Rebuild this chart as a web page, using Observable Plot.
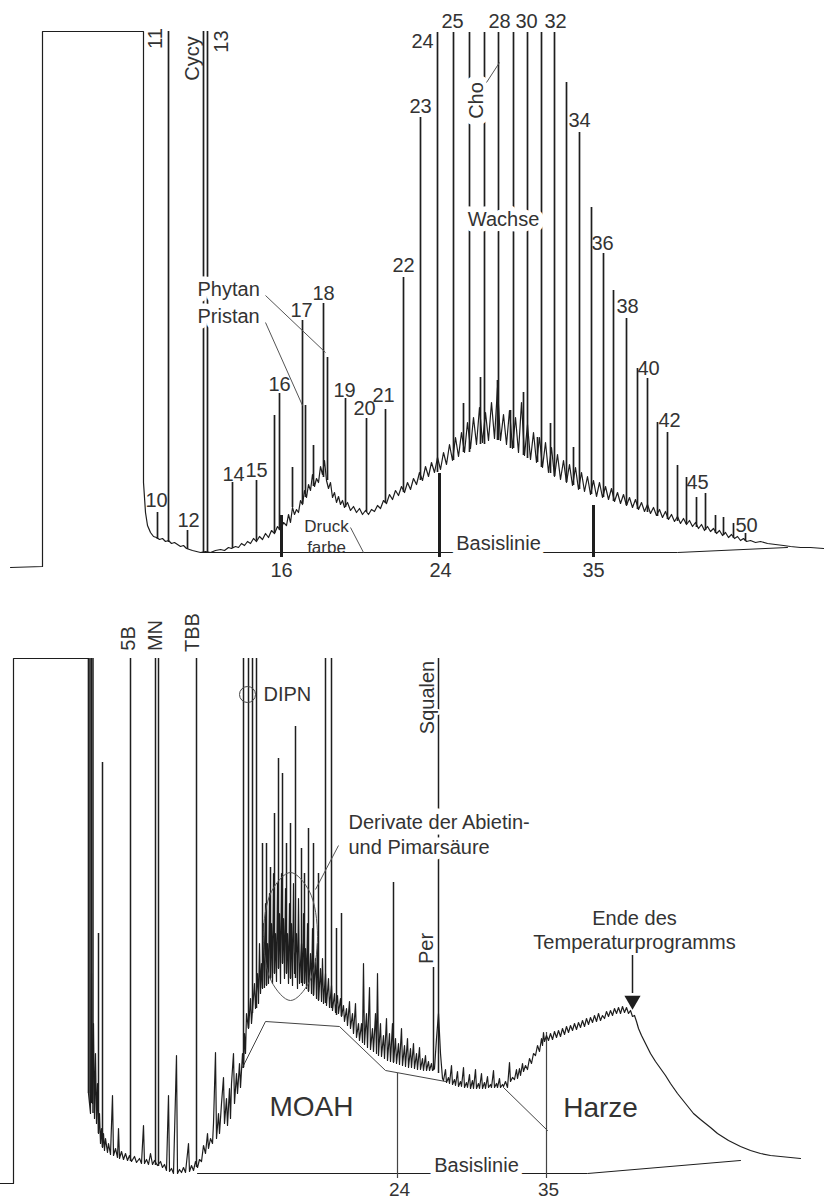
<!DOCTYPE html>
<html><head><meta charset="utf-8">
<script src="https://cdn.jsdelivr.net/npm/d3@7"></script>
<script src="https://cdn.jsdelivr.net/npm/@observablehq/plot@0.6"></script>
<style>body{margin:0;background:#fff}#chart{width:824px;line-height:0}</style>
</head><body><div id="chart"></div>
<script>
// ---------- TOP chromatogram (retention scan units, signal units) ----------
const topTrace = [[10,-15],[42,-14],[42,521],[143,521],[143,70],[145,40],[147,27],[150,20],[153,16],[156,15],[159,13],[162,14],[165,11],[168,12],[171,9],[174,10],[177,8],[180,6],[183,7],[186,4],[189,3],[192,2],[196,1],[200,0],[205,1],[210,0],[215,2],[220,3],[224,2],[228,5],[231,4],[235,6],[238,5],[241,9],[244,7],[247,11],[250,9],[253,14],[256,11],[259,16],[262,13],[265,19],[268,15],[271,22],[274,19],[277,26],[280,22],[283,30],[286,27],[288,38],[290,30],[292,45],[294,38],[296,43],[298,40],[300,52],[302,48],[304,62],[306,55],[308,68],[310,62],[312,78],[314,66],[316,74],[318,70],[320,86],[322,78],[324,92],[326,72],[328,64],[330,70],[332,55],[334,60],[336,50],[338,56],[340,48],[342,52],[344,45],[347,50],[350,42],[353,46],[356,40],[359,44],[362,38],[365,42],[368,38],[371,43],[374,41],[377,47],[380,44],[383,52],[386,49],[389,58],[392,53],[395,62],[398,57],[401,66],[404,60],[407,70],[410,63],[413,74],[416,68],[419,80],[422,72],[425,86],[428,76],[431,90],[434,80],[437,95],[440,83],[443,100],[446,88],[449,108],[452,92],[455,115],[458,96],[461,120],[464,100],[467,130],[470,104],[473,135],[476,108],[479,145],[482,110],[485,140],[488,112],[491,150],[494,114],[497,165],[500,112],[503,138],[506,108],[509,142],[512,104],[515,135],[518,100],[521,150],[524,97],[527,128],[530,93],[533,120],[536,90],[539,115],[542,85],[545,110],[548,80],[551,105],[554,76],[557,98],[560,73],[563,92],[566,70],[569,88],[572,67],[575,85],[578,63],[581,80],[584,61],[587,76],[590,58],[593,72],[596,56],[599,70],[602,55],[605,66],[608,53],[611,64],[614,51],[617,60],[620,49],[623,58],[626,47],[629,55],[632,45],[635,53],[638,43],[641,50],[644,41],[647,48],[650,39],[653,45],[656,37],[659,43],[662,35],[665,41],[668,33],[671,38],[674,31],[677,36],[680,29],[683,34],[686,28],[689,32],[692,26],[695,30],[698,24],[701,28],[704,22],[707,26],[710,21],[713,24],[716,19],[719,22],[722,17],[725,20],[728,15],[731,18],[734,14],[737,16],[740,12],[743,14],[746,11],[750,12],[755,10],[760,11],[767,9],[775,8],[783,7],[790,6],[800,5],[810,5],[823,4]];

// peaks: [position, foot, apex]
const topPeaks = [[157,13,40],[168,10,521],[187,3,22],[203,0,521],[207,0,521],
[232,4,70],[256,12,72],[274,19,137],[279,22,159],[292,45,85],[302,48,232],[305,55,147],[313,66,107],[323,75,249],[327,72,195],
[345,45,154],[366,40,134],[385,49,143],[403,60,275],[420,72,435],
[437,80,520],[453,92,520],[469,100,520],[484,108,520],[498,112,520],[513,104,520],[527,94,520],[541,85,520],[554,76,520],
[566,70,470],[579,63,420],[591,58,345],[603,55,299],[613,51,262],[626,47,234],[637,43,184],[647,40,174],[657,36,130],[667,33,120],[677,31,87],[686,28,75],[696,25,55],[705,22,59],[715,19,37],[723,17,35],[733,14,29],[745,11,19],
[463,100,149],[480,108,175],[497,112,172],[510,104,142],[523,97,160],[537,90,115],[550,79,129],[573,67,105]];

const topNumLabels = [
 {x:156,y:52,t:"10"},{x:188,y:32,t:"12"},{x:233,y:78,t:"14"},{x:256,y:82,t:"15"},{x:279,y:168,t:"16"},
 {x:301,y:242,t:"17"},{x:323,y:259,t:"18"},{x:344,y:162,t:"19"},{x:364,y:144,t:"20"},{x:383,y:157,t:"21"},
 {x:403,y:287,t:"22"},{x:420,y:446,t:"23"},{x:422,y:511,t:"24"},{x:452,y:531,t:"25"},{x:499,y:531,t:"28"},
 {x:526,y:531,t:"30"},{x:555,y:531,t:"32"},{x:579,y:432,t:"34"},{x:602,y:309,t:"36"},{x:627,y:246,t:"38"},
 {x:648,y:184,t:"40"},{x:669,y:132,t:"42"},{x:697,y:70,t:"45"},{x:746,y:27,t:"50"}];
const topRotLabels = [{x:155,y:514,t:"11"},{x:192,y:494,t:"Cycy"},{x:221,y:511,t:"13"}];
const topRotCut = [{x:476,y:452,t:"Cho"}];
const topNamesLeft = [{x:197,y:263,t:"Phytan"},{x:197,y:236,t:"Pristan"}];
const topNamesMid = [{x:503,y:333,t:"Wachse"},{x:498,y:9,t:"Basislinie"}];
const topSmall = [{x:326,y:26,t:"Druck"},{x:326,y:5,t:"farbe"}];
const topTickLabels = [{x:281,y:-18,t:"16"},{x:440,y:-18,t:"24"},{x:593,y:-18,t:"35"}];
const topLeaders = [{x1:265,y1:257,x2:325,y2:200},{x1:265,y1:230,x2:302,y2:147},{x1:486,y1:470,x2:499,y2:490},{x1:350,y1:25,x2:363,y2:0}];
const topTicks = [[281,37,-5],[439,79,-5],[593,47,-5]];
const topBase = [[200,0],[677,0],[787,5]];

// ---------- BOTTOM chromatogram ----------
const botTrace = [[0,-10],[13,-10],[13,515],[88,515],[88,80],[90,60],[91,200],[92,70],[93,150],[94,55],[95,120],[96,50],[97,90],[98,40],[99,60],[100,30],[101,45],[102,26],[103,40],[104,23],[105,35],[107,21],[108,30],[110,19],[112,78],[113,18],[115,25],[117,16],[118,45],[119,15],[121,22],[123,14],[125,20],[127,13],[129,18],[131,12],[134,17],[136,11],[139,15],[141,10],[143,48],[144,10],[146,14],[148,9],[150,20],[152,9],[154,13],[157,8],[160,12],[162,6],[164,9],[166,3],[168,78],[169,2],[171,5],[173,0],[176,118],[177,0],[179,4],[181,1],[183,6],[185,1],[188,30],[189,2],[191,8],[193,3],[195,12],[197,6],[199,14],[201,12],[203,28],[205,20],[207,40],[208,25],[210,35],[212,30],[213,50],[215,121],[216,35],[218,60],[219,40],[221,70],[223,96],[224,50],[226,75],[227,48],[229,85],[230,55],[231,90],[233,120],[234,70],[236,100],[237,80],[239,110],[240,86],[242,120],[243,106],
[244,140],[245,120],[246,160],[248,145],[250,175],[251,150],[254,190],[255,165],[257,200],[258,170],[259,230],[260,180],[261,210],[262,185],[263,250],[264,186],[265,270],[266,188],[267,230],[268,190],[269,280],[270,195],[271,250],[272,190],[273,300],[274,200],[275,240],[276,192],[277,290],[278,205],[279,260],[280,190],[281,300],[282,210],[283,255],[284,195],[285,285],[286,200],[287,240],[288,190],[289,270],[290,195],[291,250],[292,188],[293,290],[294,200],[296,240],[297,185],[298,275],[299,190],[301,230],[302,188],[303,260],[304,190],[305,225],[306,185],[307,250],[308,182],[310,220],[311,180],[312,245],[313,178],[315,215],[316,175],[317,230],[318,173],[320,205],[321,172],[322,215],[323,170],[325,200],[326,168],[328,195],[329,166],[331,188],[332,163],[334,180],[335,161],[337,178],[338,160],[340,175],[341,157],[343,168],[344,152],[346,165],[347,148],[349,172],[350,145],[352,160],[353,140],[355,170],[356,136],[358,150],[359,133],[361,150],[362,131],[363,210],[364,129],[366,160],[367,126],[369,186],[370,124],[372,145],[373,122],[375,160],[376,120],[377,200],[378,118],[380,150],[381,117],[383,138],[384,115],[386,155],[387,113],[389,140],[390,112],[392,150],[393,111],[395,135],[396,110],[398,130],[399,109],[401,145],[402,108],[404,128],[405,107],[407,135],[408,106],[410,125],[411,106],[413,130],[414,105],[416,120],[417,104],[419,126],[420,104],[422,115],[423,103],[425,118],[426,103],[428,112],[429,103],[431,110],[432,103],[434,105],[436,135],[438,160],[440,120],[442,95],[443,93],[445,104],[446,91],[448,96],[449,90],[451,108],[452,89],[454,94],[455,88],[457,102],[458,87],[460,92],[461,87],[463,106],[464,86],[466,91],[467,86],[469,99],[470,85],[472,93],[473,85],[475,104],[476,85],[478,90],[479,85],[481,100],[482,85],[484,91],[485,85],[487,97],[488,86],[490,89],[491,86],[493,103],[494,86],[496,90],[497,86],[499,95],[500,86],[502,89],[503,87],[505,92],[507,86],[509,111],[510,92],[512,96],[514,94],[516,104],[517,95],[519,105],[520,98],[522,110],[523,102],[525,108],[527,104],[529,115],[531,110],[533,120],[535,118],[537,128],[539,122],[541,135],[542,128],[543,141],[544,132],[546,138],[548,133],[550,140],[552,134],[554,142],[556,136],[558,143],[560,137],[562,145],[564,139],[566,147],[568,141],[570,148],[572,143],[574,150],[576,144],[578,151],[580,146],[582,153],[584,147],[586,155],[588,149],[590,156],[592,151],[594,158],[596,152],[598,160],[600,153],[602,158],[604,155],[606,162],[608,157],[610,163],[612,158],[614,165],[616,160],[618,166],[620,160],[622,167],[624,161],[626,166],[628,160],[630,163],[632,157],[634,158],[636,152],[638,145],[641,138],[645,130],[650,120],[655,112],[660,105],[665,98],[670,90],[677,80],[685,70],[693,60],[700,54],[710,46],[717,40],[728,33],[740,27],[750,23],[760,20],[770,18],[780,17],[790,16],[800,15]];

const botPeaks = [[88,80,515],[89.5,70,515],[91,70,515],[92.5,60,515],[98,40,240],[102,26,411],[130,12,515],[155,8,515],[158,7,515],[196,6,515],
[243,106,515],[248,145,515],[252,160,515],[256,165,515],[270,195,306],[278,205,415],[282,210,400],[295,195,447],[301,190,325],[308,182,345],[325,170,515],[331,165,515],
[262,185,330],[266,188,330],[274,200,360],[286,200,330],[290,195,350],[304,190,300],[313,178,330],[318,173,300],[336,158,245],[341,157,260],
[393,111,291],[433,103,206],[438,100,515]];

const botRotLabels = [{x:128,y:535,t:"5B"},{x:155,y:538,t:"MN"},{x:192,y:541,t:"TBB"},{x:427,y:476,t:"Squalen"},{x:426,y:225,t:"Per"}];
const botNamesLeft = [{x:263,y:479,t:"DIPN"},{x:348,y:351,t:"Derivate der Abietin-"},{x:348,y:326,t:"und Pimarsäure"}];
const botNamesMid = [{x:634,y:255,t:"Ende des"},{x:634,y:231,t:"Temperaturprogramms"},{x:476,y:8,t:"Basislinie"}];
const botBig = [{x:311,y:66,t:"MOAH"},{x:600,y:65,t:"Harze"}];
const botTickLabels = [{x:399,y:-16,t:"24"},{x:548,y:-16,t:"35"}];
const botEllipse = [[290,301],[309,282],[317,237],[309,192],[290,173],[271,192],[263,237],[271,282]];
const botCircle = [{x:247,y:479}];
const botLeaders = [{x1:315,y1:284,x2:338,y2:328}];
const botMoah = [[242,106],[265,152],[339,147],[385,103],[445,92]];
const botHarze = [[503,86],[547,43]];
const botBase = [[197,0],[587,0],[740,13]];
const botTicks = [[397,100,-5],[546,141,-5]];
const botArrow = {x:632, from:218, to:180, head:173};

// ---------- drawing ----------
const FONT = "'Liberation Sans', Arial, Helvetica, sans-serif";
const INK = "#1e1e1e", TXT = "#333";
const halo = {stroke:"white", strokeWidth:11, strokeLinejoin:"round", paintOrder:"stroke", fill:TXT};
const T = {x:"x", y:"y", text:"t"};

function panel(h, ydom, marks) {
  return Plot.plot({width:824, height:h, margin:0,
    x:{domain:[0,824], axis:null}, y:{domain:ydom, axis:null},
    style:{fontFamily:FONT, background:"white", overflow:"visible"}, marks});
}
const px = d => d[0], py = d => d[1];

const topChart = panel(590, [-38, 552], [
  Plot.line(topBase, {x:px, y:py, stroke:INK, strokeWidth:1}),
  Plot.line(topTrace, {x:px, y:py, stroke:INK, strokeWidth:1.2, strokeLinejoin:"round"}),
  Plot.ruleX(topPeaks, {x:d=>d[0], y1:d=>d[1], y2:d=>d[2], stroke:INK, strokeWidth:1.7}),
  Plot.ruleX(topTicks, {x:d=>d[0], y1:d=>d[1], y2:d=>d[2], stroke:INK, strokeWidth:3}),
  Plot.text(topRotLabels, {...T, rotate:-90, fontSize:20, fill:TXT}),
  Plot.text(topRotCut, {...T, rotate:-90, fontSize:20, ...halo, strokeWidth:15}),
  Plot.text(topNamesLeft, {...T, textAnchor:"start", fontSize:20, ...halo}),
  Plot.text(topNamesMid, {...T, fontSize:20, ...halo}),
  Plot.text(topSmall, {...T, fontSize:17, fill:TXT}),
  Plot.text(topNumLabels, {...T, fontSize:20, fill:TXT}),
  Plot.text(topTickLabels, {...T, fontSize:20, fill:TXT}),
  Plot.link(topLeaders, {x1:"x1", y1:"y1", x2:"x2", y2:"y2", stroke:"#555", strokeWidth:1})
]);

const bottomChart = panel(610, [-27, 583], [
  Plot.line(botBase, {x:px, y:py, stroke:INK, strokeWidth:1}),
  Plot.line(botMoah, {x:px, y:py, stroke:"#444", strokeWidth:1}),
  Plot.line(botHarze, {x:px, y:py, stroke:"#444", strokeWidth:1}),
  Plot.ruleX(botTicks, {x:d=>d[0], y1:d=>d[1], y2:d=>d[2], stroke:"#444", strokeWidth:1.2}),
  Plot.line(botTrace, {x:px, y:py, stroke:INK, strokeWidth:1.2, strokeLinejoin:"round"}),
  Plot.ruleX(botPeaks, {x:d=>d[0], y1:d=>d[1], y2:d=>d[2], stroke:INK, strokeWidth:1.5}),
  Plot.line(botEllipse, {x:px, y:py, curve:"catmull-rom-closed", stroke:"#555", strokeWidth:1}),
  Plot.dot(botCircle, {x:"x", y:"y", r:8, stroke:"#444", strokeWidth:1}),
  Plot.text(botRotLabels, {...T, rotate:-90, fontSize:20, ...halo, strokeWidth:4}),
  Plot.text(botNamesLeft, {...T, textAnchor:"start", fontSize:20, ...halo}),
  Plot.text(botNamesMid, {...T, fontSize:20, ...halo}),
  Plot.link(botLeaders, {x1:"x1", y1:"y1", x2:"x2", y2:"y2", stroke:"#555", strokeWidth:1}),
  Plot.text(botBig, {...T, fontSize:28, fill:TXT}),
  Plot.text(botTickLabels, {...T, fontSize:19, fill:TXT}),
  Plot.ruleX([botArrow], {x:"x", y1:"from", y2:"to", stroke:INK, strokeWidth:1.5}),
  Plot.dot([botArrow], {x:"x", y:"head", symbol:"triangle", r:6, rotate:180, fill:INK, stroke:"none"})
]);

const root = document.getElementById("chart");
root.appendChild(topChart);
root.appendChild(bottomChart);
</script>
</body></html>
